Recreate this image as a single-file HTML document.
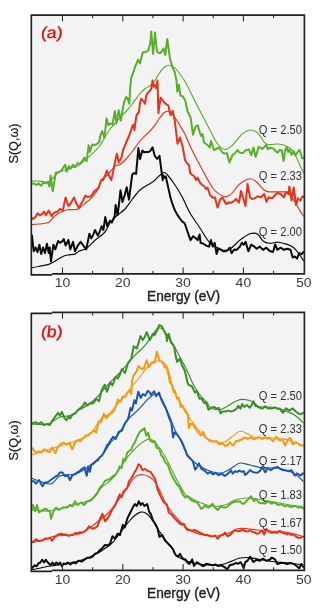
<!DOCTYPE html>
<html><head><meta charset="utf-8"><style>
html,body{margin:0;padding:0;background:#fff;}
svg{display:block;font-family:"Liberation Sans",sans-serif;will-change:transform;}
</style></head><body>
<svg width="320" height="615" viewBox="0 0 320 615">
<rect width="320" height="615" fill="#fff"/>
<rect x="31.3" y="15.1" width="273.10" height="258.80" fill="#f3f3f3"/>
<clipPath id="c0"><rect x="31.3" y="15.1" width="273.10" height="258.80"/></clipPath>
<g clip-path="url(#c0)" fill="none" stroke-linejoin="round" stroke-linecap="round">
<path d="M31.00,181.10 C32.40,181.10 36.44,180.97 39.40,181.10 C42.36,181.23 46.15,182.82 48.75,181.90 C51.35,180.98 53.17,177.30 55.00,175.60 C56.83,173.90 57.62,172.73 59.70,171.70 C61.78,170.67 64.63,170.31 67.50,169.40 C70.37,168.49 74.72,167.15 76.90,166.25 C79.08,165.35 78.88,165.31 80.60,164.00 C82.32,162.69 85.01,160.35 87.20,158.40 C89.39,156.45 91.72,154.33 93.75,152.30 C95.78,150.28 97.61,148.63 99.40,146.25 C101.19,143.87 102.73,140.88 104.50,138.00 C106.27,135.12 107.92,131.75 110.00,129.00 C112.08,126.25 115.33,123.42 117.00,121.50 C118.67,119.58 118.46,119.21 120.00,117.50 C121.54,115.79 124.17,113.54 126.25,111.25 C128.33,108.96 130.42,106.46 132.50,103.75 C134.58,101.04 136.67,97.50 138.75,95.00 C140.83,92.50 142.92,90.42 145.00,88.75 C147.08,87.08 149.58,86.38 151.25,85.00 C152.92,83.62 153.75,82.33 155.00,80.50 C156.25,78.67 157.18,76.22 158.75,74.00 C160.32,71.78 162.68,68.65 164.40,67.20 C166.12,65.75 167.54,65.25 169.10,65.30 C170.66,65.35 172.60,66.88 173.75,67.50 C174.90,68.12 174.18,66.75 176.00,69.00 C177.82,71.25 181.80,76.17 184.70,81.00 C187.60,85.83 190.85,93.00 193.40,98.00 C195.95,103.00 197.23,105.67 200.00,111.00 C202.77,116.33 207.08,124.54 210.00,130.00 C212.92,135.46 215.00,140.50 217.50,143.75 C220.00,147.00 222.50,149.29 225.00,149.50 C227.50,149.71 229.58,147.62 232.50,145.00 C235.42,142.38 239.42,136.25 242.50,133.75 C245.58,131.25 248.29,129.96 251.00,130.00 C253.71,130.04 256.18,131.67 258.75,134.00 C261.32,136.33 263.12,142.33 266.40,144.00 C269.67,145.67 275.02,143.62 278.40,144.00 C281.78,144.38 284.38,145.17 286.70,146.25 C289.02,147.33 290.65,148.62 292.30,150.50 C293.95,152.38 295.18,154.70 296.60,157.50 C298.02,160.30 299.40,164.38 300.80,167.30 C302.20,170.22 304.30,173.72 305.00,175.00" stroke="#5aae2e" stroke-width="1.15"/>
<path d="M31.00,224.70 C32.71,224.54 38.29,224.16 41.25,223.75 C44.21,223.34 46.56,223.50 48.75,222.25 C50.94,221.00 52.21,218.03 54.40,216.25 C56.59,214.47 59.72,212.69 61.90,211.60 C64.08,210.51 65.32,210.02 67.50,209.70 C69.68,209.38 73.12,209.86 75.00,209.70 C76.88,209.54 76.88,210.00 78.75,208.75 C80.62,207.50 84.38,203.76 86.25,202.20 C88.12,200.64 88.12,201.43 90.00,199.40 C91.88,197.37 95.62,193.23 97.50,190.00 C99.38,186.77 99.58,182.50 101.25,180.00 C102.92,177.50 105.21,177.29 107.50,175.00 C109.79,172.71 112.92,168.02 115.00,166.25 C117.08,164.48 118.12,165.65 120.00,164.40 C121.88,163.15 124.17,160.94 126.25,158.75 C128.33,156.56 130.21,154.21 132.50,151.25 C134.79,148.29 137.08,144.41 140.00,141.00 C142.92,137.59 147.55,133.42 150.00,130.80 C152.45,128.18 153.13,127.38 154.70,125.30 C156.27,123.22 157.85,120.38 159.40,118.30 C160.95,116.22 162.70,113.97 164.00,112.80 C165.30,111.62 166.15,111.38 167.20,111.25 C168.25,111.12 169.00,110.96 170.30,112.00 C171.60,113.04 173.43,115.28 175.00,117.50 C176.57,119.72 178.13,122.70 179.70,125.30 C181.27,127.90 183.10,130.65 184.40,133.10 C185.70,135.55 186.23,137.18 187.50,140.00 C188.77,142.82 189.50,145.00 192.00,150.00 C194.50,155.00 199.08,163.75 202.50,170.00 C205.92,176.25 209.17,183.17 212.50,187.50 C215.83,191.83 219.58,194.75 222.50,196.00 C225.42,197.25 227.08,197.04 230.00,195.00 C232.92,192.96 236.67,186.46 240.00,183.75 C243.33,181.04 247.23,179.04 250.00,178.75 C252.77,178.46 254.05,179.99 256.60,182.00 C259.15,184.01 262.75,189.15 265.30,190.80 C267.85,192.45 268.98,191.72 271.90,191.90 C274.82,192.08 280.07,191.72 282.80,191.90 C285.53,192.08 286.30,191.37 288.30,193.00 C290.30,194.63 292.98,198.97 294.80,201.70 C296.62,204.43 297.75,207.02 299.20,209.40 C300.65,211.78 302.78,214.90 303.50,216.00" stroke="#e8321c" stroke-width="1.15"/>
<path d="M31.00,268.10 C32.40,267.79 36.44,266.87 39.40,266.25 C42.36,265.63 46.25,265.17 48.75,264.40 C51.25,263.62 52.21,262.85 54.40,261.60 C56.59,260.35 59.72,258.00 61.90,256.90 C64.08,255.80 65.32,255.47 67.50,255.00 C69.68,254.53 73.12,254.72 75.00,254.10 C76.88,253.47 76.88,252.20 78.75,251.25 C80.62,250.30 83.54,250.22 86.25,248.40 C88.96,246.58 91.88,243.03 95.00,240.30 C98.12,237.57 102.50,234.88 105.00,232.00 C107.50,229.12 107.92,225.83 110.00,223.00 C112.08,220.17 115.00,217.33 117.50,215.00 C120.00,212.67 122.50,211.67 125.00,209.00 C127.50,206.33 130.00,202.17 132.50,199.00 C135.00,195.83 137.50,192.33 140.00,190.00 C142.50,187.67 145.17,186.50 147.50,185.00 C149.83,183.50 152.08,182.50 154.00,181.00 C155.92,179.50 157.33,177.42 159.00,176.00 C160.67,174.58 162.58,172.67 164.00,172.50 C165.42,172.33 165.67,172.92 167.50,175.00 C169.33,177.08 172.50,181.25 175.00,185.00 C177.50,188.75 180.00,192.83 182.50,197.50 C185.00,202.17 187.08,207.92 190.00,213.00 C192.92,218.08 196.67,223.00 200.00,228.00 C203.33,233.00 206.25,239.33 210.00,243.00 C213.75,246.67 219.17,249.00 222.50,250.00 C225.83,251.00 227.08,250.67 230.00,249.00 C232.92,247.33 236.67,242.54 240.00,240.00 C243.33,237.46 247.08,234.75 250.00,233.75 C252.92,232.75 255.33,232.79 257.50,234.00 C259.67,235.21 260.97,239.45 263.00,241.00 C265.03,242.55 267.13,243.10 269.70,243.30 C272.27,243.50 275.48,242.02 278.40,242.20 C281.32,242.38 284.64,243.48 287.20,244.40 C289.76,245.32 291.75,246.07 293.75,247.70 C295.75,249.33 297.56,252.02 299.20,254.20 C300.84,256.38 302.87,259.70 303.60,260.80" stroke="#0a0a0a" stroke-width="1.15"/>
<path d="M31.00,184.20 L33.90,183.40 L36.25,185.00 L38.60,183.40 L40.90,185.80 L43.30,182.70 L45.60,183.40 L48.00,181.90 L49.50,186.60 L50.60,175.60 L52.70,191.25 L55.80,172.50 L58.10,172.50 L61.25,170.90 L63.60,167.00 L65.20,164.70 L66.70,171.70 L69.00,166.25 L70.60,168.60 L73.00,164.70 L75.30,167.00 L77.70,163.10 L80.00,163.90 L81.60,162.20 L84.40,157.50 L86.70,161.25 L88.60,145.30 L90.00,151.90 L92.30,144.40 L94.70,145.30 L97.00,143.90 L99.40,142.00 L100.00,136.60 L102.20,131.10 L104.40,137.70 L106.60,118.50 L108.20,125.10 L110.40,123.40 L112.60,124.50 L114.80,110.90 L116.40,123.40 L118.60,110.30 L120.80,120.70 L122.50,110.00 L124.40,101.25 L126.25,96.90 L127.50,98.10 L129.40,103.75 L130.00,90.00 L131.25,77.50 L132.50,74.70 L135.30,66.25 L138.10,59.70 L140.00,63.40 L142.80,52.20 L145.60,52.20 L148.40,50.30 L150.30,42.80 L151.25,31.60 L153.10,54.00 L155.00,32.50 L156.90,51.25 L158.75,52.99 L160.60,53.10 L163.40,48.40 L165.30,55.00 L167.20,39.00 L170.00,58.75 L172.80,68.10 L174.70,71.90 L176.60,81.25 L177.30,91.70 L178.90,84.70 L180.50,95.60 L182.80,96.40 L185.20,100.30 L187.50,111.25 L190.60,117.50 L193.00,134.70 L195.30,126.90 L197.70,125.30 L200.00,133.10 L201.00,136.00 L202.50,134.00 L204.00,142.50 L207.50,145.00 L210.00,147.50 L211.00,141.00 L214.00,150.00 L216.00,149.00 L219.00,147.50 L222.50,152.50 L224.70,153.62 L226.90,153.10 L229.40,162.50 L232.50,155.00 L235.00,153.24 L237.50,150.00 L239.38,152.42 L241.25,153.10 L243.33,152.82 L245.42,150.28 L247.50,150.00 L248.75,149.40 L251.25,155.00 L253.50,147.50 L255.60,156.90 L258.75,146.90 L261.25,148.10 L262.10,149.10 L264.20,147.00 L266.30,144.80 L267.70,149.10 L269.80,147.70 L273.40,148.40 L275.50,151.20 L277.60,152.60 L279.70,149.80 L281.80,150.50 L283.60,161.00 L285.30,149.80 L286.70,147.00 L288.10,151.90 L289.50,149.80 L291.60,154.70 L293.75,151.20 L295.20,155.40 L297.30,152.60 L299.40,149.80 L300.80,153.30 L302.20,158.20 L305.00,158.20" stroke="#5aae2e" stroke-width="2.0"/>
<path d="M31.00,217.00 L33.00,219.00 L35.25,217.19 L37.50,213.40 L40.30,215.30 L42.15,214.03 L44.00,211.60 L46.00,215.30 L48.75,210.60 L51.60,216.25 L53.40,213.40 L56.00,212.00 L58.00,211.44 L60.00,208.75 L62.80,210.60 L65.60,197.50 L68.40,206.00 L71.00,203.00 L74.00,197.50 L76.38,203.42 L78.75,207.80 L81.00,204.00 L83.15,200.50 L85.30,195.60 L87.65,196.95 L90.00,196.60 L92.00,194.95 L94.00,191.63 L96.00,190.00 L98.75,187.50 L101.25,180.00 L103.00,180.00 L104.95,176.02 L106.90,170.60 L109.08,175.89 L111.25,180.00 L113.13,172.13 L115.02,161.79 L116.90,153.75 L118.75,162.50 L121.25,158.10 L123.10,150.00 L124.40,146.90 L126.25,142.50 L129.40,135.00 L131.90,127.50 L133.10,125.00 L134.40,130.00 L136.25,116.25 L137.50,113.75 L138.75,112.50 L140.00,103.10 L141.25,98.75 L143.10,100.60 L145.00,103.75 L146.25,95.60 L148.10,92.50 L150.00,90.60 L151.25,88.75 L152.50,80.60 L153.75,86.90 L155.00,85.00 L156.25,88.10 L157.50,80.60 L158.40,113.00 L160.60,97.70 L163.90,102.00 L166.10,104.20 L168.30,105.30 L170.50,115.20 L172.70,110.80 L174.80,120.60 L176.00,131.00 L177.50,143.75 L180.00,137.50 L182.50,146.00 L185.00,160.00 L187.00,163.19 L189.00,165.00 L190.00,172.50 L192.00,174.87 L194.00,176.00 L196.00,180.00 L197.50,177.50 L200.00,182.50 L202.00,184.84 L204.00,186.00 L206.00,189.00 L207.50,187.50 L210.00,195.00 L212.50,197.50 L215.00,197.50 L217.50,207.50 L220.00,200.00 L222.50,197.50 L226.00,204.00 L229.00,202.50 L231.50,202.66 L234.00,201.00 L236.00,199.00 L239.00,202.50 L241.00,191.00 L243.00,197.50 L245.50,206.00 L247.50,184.00 L250.00,197.50 L252.20,198.99 L254.40,198.40 L257.70,196.25 L261.00,197.30 L264.20,194.00 L266.40,201.70 L268.60,197.30 L271.90,198.40 L274.00,196.25 L277.30,193.00 L280.60,194.00 L283.90,197.30 L286.10,191.90 L288.30,194.00 L289.40,186.40 L291.60,200.60 L293.75,187.50 L296.00,205.00 L298.10,198.40 L300.30,200.60 L302.50,196.25 L304.00,197.00" stroke="#e8321c" stroke-width="2.0"/>
<path d="M31.00,249.40 L31.90,235.30 L33.75,251.25 L35.60,247.50 L37.50,252.20 L39.40,244.70 L41.25,254.00 L43.10,247.50 L45.00,253.10 L46.90,243.75 L48.75,253.10 L49.70,247.50 L51.00,261.60 L53.40,244.70 L55.30,249.40 L58.10,241.00 L60.00,242.80 L61.88,241.66 L63.75,239.00 L65.60,245.60 L68.40,240.00 L70.30,249.40 L73.10,241.90 L75.00,251.25 L77.80,245.60 L80.60,241.90 L83.40,245.60 L86.25,249.40 L89.40,233.75 L91.25,238.40 L93.12,235.08 L95.00,230.00 L97.80,235.60 L99.70,231.77 L101.60,226.25 L103.40,230.00 L105.30,216.90 L107.20,226.25 L110.00,220.60 L111.90,222.50 L114.70,215.90 L115.60,205.00 L117.50,215.00 L118.90,205.00 L120.50,190.30 L122.50,202.00 L124.60,195.50 L126.70,187.20 L129.00,199.70 L132.20,174.70 L133.75,173.10 L136.10,173.90 L138.40,148.10 L140.00,159.00 L142.30,150.50 L144.28,152.29 L146.25,152.00 L148.60,152.00 L150.55,150.59 L152.50,147.30 L154.80,155.90 L157.20,159.00 L159.50,155.90 L162.70,180.20 L163.25,175.20 L164.50,177.80 L165.80,176.50 L167.80,185.60 L170.40,197.30 L172.35,203.70 L174.30,209.00 L176.90,214.09 L179.50,218.00 L182.10,221.37 L184.70,223.25 L187.30,231.00 L190.50,240.10 L193.10,236.20 L195.70,238.20 L197.70,240.10 L199.60,234.50 L200.60,242.80 L203.40,243.75 L206.25,245.60 L209.10,246.60 L210.90,240.00 L212.80,246.60 L214.70,242.80 L216.60,254.00 L218.40,248.40 L220.30,249.40 L223.10,251.25 L226.00,251.25 L227.85,250.07 L229.70,247.50 L231.60,253.10 L234.40,249.40 L236.25,249.98 L238.10,248.40 L240.00,246.52 L241.90,242.80 L243.75,244.70 L245.60,241.90 L248.40,251.25 L251.25,244.70 L254.40,246.60 L256.60,248.75 L259.80,246.60 L263.00,249.80 L266.40,247.70 L269.70,251.00 L273.00,252.00 L275.20,244.40 L277.30,249.80 L280.60,247.70 L283.90,249.80 L287.20,248.75 L290.50,249.80 L292.70,257.50 L294.80,256.40 L297.00,258.60 L299.20,253.10 L301.40,254.20 L303.60,252.00" stroke="#0a0a0a" stroke-width="2.0"/>
</g>
<path d="M62.50,273.90 V267.60 M62.50,15.10 V21.40 M92.65,273.90 V270.70 M92.65,15.10 V18.30 M122.80,273.90 V267.60 M122.80,15.10 V21.40 M152.95,273.90 V270.70 M152.95,15.10 V18.30 M183.10,273.90 V267.60 M183.10,15.10 V21.40 M213.25,273.90 V270.70 M213.25,15.10 V18.30 M243.40,273.90 V267.60 M243.40,15.10 V21.40 M273.55,273.90 V270.70 M273.55,15.10 V18.30" stroke="#2a2a2a" stroke-width="1.05" fill="none"/>
<path d="M31.30,14.30 V275.65 M304.40,14.30 V274.70 M31.30,15.10 H52.00 M52.00,15.10 H305.20 M31.30,274.85 H52.00 M52.00,273.90 H305.20" fill="none" stroke="#222222" stroke-width="1.65"/>
<text x="62.50" y="287.20" text-anchor="middle" font-size="13.6" fill="#3a3a3a" textLength="15.6" lengthAdjust="spacingAndGlyphs">10</text>
<text x="122.80" y="287.20" text-anchor="middle" font-size="13.6" fill="#3a3a3a" textLength="15.6" lengthAdjust="spacingAndGlyphs">20</text>
<text x="183.10" y="287.20" text-anchor="middle" font-size="13.6" fill="#3a3a3a" textLength="15.6" lengthAdjust="spacingAndGlyphs">30</text>
<text x="243.40" y="287.20" text-anchor="middle" font-size="13.6" fill="#3a3a3a" textLength="15.6" lengthAdjust="spacingAndGlyphs">40</text>
<text x="303.70" y="287.20" text-anchor="middle" font-size="13.6" fill="#3a3a3a" textLength="15.6" lengthAdjust="spacingAndGlyphs">50</text>
<text x="147" y="301.40" font-size="14.2" fill="#222" stroke="#222" stroke-width="0.4" textLength="73" lengthAdjust="spacingAndGlyphs">Energy (eV)</text>
<text transform="translate(17.8,143.50) rotate(-90)" text-anchor="middle" font-size="13" fill="#222" stroke="#222" stroke-width="0.25" textLength="40" lengthAdjust="spacingAndGlyphs">S(Q,ω)</text>
<text transform="translate(40.4,38.30) skewX(-6)" x="0" y="0" font-size="16" fill="#e01010" stroke="#e01010" stroke-width="0.35" textLength="21.8" lengthAdjust="spacingAndGlyphs">(a)</text>
<text x="258.8" y="134.00" font-size="13.7" fill="#333" textLength="43.2" lengthAdjust="spacingAndGlyphs">Q = 2.50</text>
<text x="258.8" y="180.00" font-size="13.7" fill="#333" textLength="43.2" lengthAdjust="spacingAndGlyphs">Q = 2.33</text>
<text x="258.8" y="236.00" font-size="13.7" fill="#333" textLength="43.2" lengthAdjust="spacingAndGlyphs">Q = 2.00</text>
<rect x="31.3" y="312.4" width="273.10" height="258.00" fill="#f3f3f3"/>
<clipPath id="c1"><rect x="31.3" y="312.4" width="273.10" height="258.00"/></clipPath>
<g clip-path="url(#c1)" fill="none" stroke-linejoin="round" stroke-linecap="round">
<path d="M31.00,424.00 C33.33,424.08 41.50,424.83 45.00,424.50 C48.50,424.17 49.50,423.25 52.00,422.00 C54.50,420.75 57.00,418.08 60.00,417.00 C63.00,415.92 66.67,416.75 70.00,415.50 C73.33,414.25 76.67,411.50 80.00,409.50 C83.33,407.50 86.67,406.08 90.00,403.50 C93.33,400.92 96.77,397.40 100.00,394.00 C103.23,390.60 106.28,386.48 109.40,383.10 C112.53,379.73 115.88,376.73 118.75,373.75 C121.62,370.77 124.12,368.06 126.60,365.20 C129.07,362.34 130.90,359.50 133.60,356.60 C136.30,353.70 139.97,350.83 142.80,347.80 C145.63,344.77 148.25,341.53 150.60,338.40 C152.95,335.27 155.07,330.68 156.90,329.00 C158.73,327.32 160.04,327.51 161.60,328.30 C163.16,329.09 164.43,331.28 166.25,333.75 C168.07,336.22 170.42,339.59 172.50,343.10 C174.58,346.61 176.67,350.88 178.75,354.80 C180.83,358.72 183.29,363.23 185.00,366.60 C186.71,369.97 187.65,372.10 189.00,375.00 C190.35,377.90 191.27,380.67 193.10,384.00 C194.93,387.33 197.60,391.82 200.00,395.00 C202.40,398.18 205.93,401.12 207.50,403.10 C209.07,405.08 207.53,405.80 209.40,406.90 C211.28,408.00 215.94,409.70 218.75,409.70 C221.56,409.70 223.75,408.15 226.25,406.90 C228.75,405.65 231.25,403.45 233.75,402.20 C236.25,400.95 238.75,399.72 241.25,399.40 C243.75,399.08 246.56,399.68 248.75,400.30 C250.94,400.92 252.53,402.00 254.40,403.10 C256.27,404.20 257.08,406.20 260.00,406.90 C262.92,407.60 267.73,406.68 271.90,407.30 C276.07,407.92 280.98,409.13 285.00,410.60 C289.02,412.07 293.00,414.08 296.00,416.10 C299.00,418.12 301.83,421.60 303.00,422.70" stroke="#3a8f26" stroke-width="1.15"/>
<path d="M31.00,455.00 C34.17,454.00 43.50,451.00 50.00,449.00 C56.50,447.00 63.33,445.50 70.00,443.00 C76.67,440.50 85.00,437.87 90.00,434.00 C95.00,430.13 96.77,423.20 100.00,419.80 C103.23,416.40 106.28,416.45 109.40,413.60 C112.53,410.75 115.63,406.22 118.75,402.70 C121.87,399.18 125.76,395.37 128.10,392.50 C130.44,389.63 130.98,387.92 132.80,385.50 C134.62,383.08 136.65,381.00 139.00,378.00 C141.35,375.00 144.73,369.92 146.90,367.50 C149.07,365.08 150.32,364.58 152.00,363.50 C153.68,362.42 155.33,361.33 157.00,361.00 C158.67,360.67 160.50,360.83 162.00,361.50 C163.50,362.17 164.83,363.25 166.00,365.00 C167.17,366.75 167.92,368.46 169.00,372.00 C170.08,375.54 171.08,382.00 172.50,386.25 C173.92,390.50 175.83,394.06 177.50,397.50 C179.17,400.94 180.83,403.88 182.50,406.90 C184.17,409.92 185.83,413.10 187.50,415.60 C189.17,418.10 190.83,419.71 192.50,421.90 C194.17,424.09 195.83,426.67 197.50,428.75 C199.17,430.83 200.83,432.73 202.50,434.40 C204.17,436.07 204.17,437.40 207.50,438.75 C210.83,440.10 218.58,442.71 222.50,442.50 C226.42,442.29 228.08,439.38 231.00,437.50 C233.92,435.62 237.25,431.88 240.00,431.25 C242.75,430.62 245.00,432.71 247.50,433.75 C250.00,434.79 252.03,436.91 255.00,437.50 C257.97,438.09 261.40,437.12 265.30,437.30 C269.20,437.48 274.38,438.12 278.40,438.60 C282.42,439.08 285.30,439.03 289.40,440.20 C293.50,441.37 300.73,444.70 303.00,445.60" stroke="#f59b12" stroke-width="1.15"/>
<path d="M31.00,478.00 C34.17,479.00 45.17,484.33 50.00,484.00 C54.83,483.67 55.83,477.63 60.00,476.00 C64.17,474.37 70.93,475.28 75.00,474.20 C79.07,473.12 81.28,471.45 84.40,469.50 C87.53,467.55 90.63,465.10 93.75,462.50 C96.87,459.90 100.24,457.28 103.10,453.90 C105.96,450.52 108.55,445.20 110.90,442.20 C113.25,439.20 114.85,438.93 117.20,435.90 C119.55,432.87 122.92,427.07 125.00,424.00 C127.08,420.93 127.62,419.75 129.70,417.50 C131.78,415.25 134.90,413.10 137.50,410.50 C140.10,407.90 143.22,404.12 145.30,401.90 C147.38,399.68 148.22,398.56 150.00,397.20 C151.78,395.84 154.17,393.70 156.00,393.75 C157.83,393.80 158.83,393.96 161.00,397.50 C163.17,401.04 166.67,409.58 169.00,415.00 C171.33,420.42 173.17,426.04 175.00,430.00 C176.83,433.96 178.33,435.38 180.00,438.75 C181.67,442.12 183.12,446.74 185.00,450.20 C186.88,453.66 188.65,456.77 191.25,459.50 C193.85,462.23 197.74,464.77 200.60,466.60 C203.46,468.43 205.79,469.47 208.40,470.50 C211.01,471.53 213.90,472.42 216.25,472.80 C218.60,473.18 220.42,473.32 222.50,472.80 C224.58,472.28 226.67,470.87 228.75,469.70 C230.83,468.53 233.12,466.92 235.00,465.80 C236.88,464.68 237.50,463.13 240.00,463.00 C242.50,462.87 246.17,464.17 250.00,465.00 C253.83,465.83 258.62,467.50 263.00,468.00 C267.38,468.50 271.85,467.46 276.25,468.00 C280.65,468.54 285.94,469.98 289.40,471.25 C292.86,472.52 294.73,473.96 297.00,475.60 C299.27,477.24 302.00,480.18 303.00,481.10" stroke="#1b56ae" stroke-width="1.15"/>
<path d="M31.00,510.00 C34.17,510.17 43.50,511.67 50.00,511.00 C56.50,510.33 63.33,507.83 70.00,506.00 C76.67,504.17 85.00,502.83 90.00,500.00 C95.00,497.17 96.67,492.17 100.00,489.00 C103.33,485.83 107.50,483.25 110.00,481.00 C112.50,478.75 113.33,477.58 115.00,475.50 C116.67,473.42 117.92,471.55 120.00,468.50 C122.08,465.45 125.00,460.49 127.50,457.20 C130.00,453.91 132.50,451.25 135.00,448.75 C137.50,446.25 140.32,443.76 142.50,442.20 C144.68,440.64 146.38,439.72 148.10,439.40 C149.82,439.08 151.23,439.37 152.80,440.30 C154.37,441.23 155.47,442.34 157.50,445.00 C159.53,447.66 162.50,451.88 165.00,456.25 C167.50,460.62 170.33,466.96 172.50,471.25 C174.67,475.54 175.92,478.21 178.00,482.00 C180.08,485.79 183.00,491.42 185.00,494.00 C187.00,496.58 187.50,496.08 190.00,497.50 C192.50,498.92 196.25,501.04 200.00,502.50 C203.75,503.96 208.33,505.83 212.50,506.25 C216.67,506.67 221.25,506.04 225.00,505.00 C228.75,503.96 231.67,501.17 235.00,500.00 C238.33,498.83 241.67,498.21 245.00,498.00 C248.33,497.79 250.83,498.21 255.00,498.75 C259.17,499.29 264.17,500.21 270.00,501.25 C275.83,502.29 284.50,504.04 290.00,505.00 C295.50,505.96 300.83,506.67 303.00,507.00" stroke="#5eae2e" stroke-width="1.15"/>
<path d="M31.00,543.10 C33.43,542.45 41.60,540.37 45.60,539.20 C49.60,538.03 51.35,536.75 55.00,536.10 C58.65,535.45 63.83,535.57 67.50,535.30 C71.17,535.03 74.08,535.22 77.00,534.50 C79.92,533.78 81.17,533.42 85.00,531.00 C88.83,528.58 95.83,523.29 100.00,520.00 C104.17,516.71 107.18,514.27 110.00,511.25 C112.82,508.23 114.19,505.49 116.90,501.90 C119.61,498.31 123.75,493.30 126.25,489.70 C128.75,486.10 130.03,482.65 131.90,480.30 C133.78,477.95 135.63,476.53 137.50,475.60 C139.37,474.67 141.22,474.53 143.10,474.70 C144.97,474.87 146.87,475.51 148.75,476.60 C150.63,477.69 152.53,478.85 154.40,481.25 C156.28,483.65 158.23,487.54 160.00,491.00 C161.77,494.46 163.33,498.83 165.00,502.00 C166.67,505.17 168.33,507.67 170.00,510.00 C171.67,512.33 173.33,514.08 175.00,516.00 C176.67,517.92 177.92,519.43 180.00,521.50 C182.08,523.57 184.38,526.32 187.50,528.40 C190.62,530.48 194.17,532.69 198.75,534.00 C203.33,535.31 210.21,536.29 215.00,536.25 C219.79,536.21 223.75,535.00 227.50,533.75 C231.25,532.50 234.17,529.58 237.50,528.75 C240.83,527.92 244.17,528.54 247.50,528.75 C250.83,528.96 253.75,529.62 257.50,530.00 C261.25,530.38 264.58,530.50 270.00,531.00 C275.42,531.50 284.50,532.08 290.00,533.00 C295.50,533.92 300.83,535.92 303.00,536.50" stroke="#e6341c" stroke-width="1.15"/>
<path d="M31.00,570.00 C34.17,569.33 43.50,567.17 50.00,566.00 C56.50,564.83 63.33,564.50 70.00,563.00 C76.67,561.50 83.33,560.00 90.00,557.00 C96.67,554.00 105.00,549.00 110.00,545.00 C115.00,541.00 116.77,537.00 120.00,533.00 C123.23,529.00 126.90,523.95 129.40,521.00 C131.90,518.05 133.13,516.78 135.00,515.30 C136.87,513.82 138.72,512.42 140.60,512.10 C142.47,511.78 144.52,512.40 146.25,513.40 C147.98,514.40 149.12,515.60 151.00,518.10 C152.88,520.60 155.17,524.80 157.50,528.40 C159.83,532.00 162.50,536.42 165.00,539.70 C167.50,542.98 170.62,545.45 172.50,548.10 C174.38,550.75 173.75,553.41 176.25,555.60 C178.75,557.79 183.75,559.85 187.50,561.25 C191.25,562.65 195.10,563.38 198.75,564.00 C202.40,564.62 205.54,564.92 209.40,565.00 C213.26,565.08 218.26,565.10 221.90,564.50 C225.54,563.90 228.40,562.43 231.25,561.40 C234.10,560.37 236.38,558.95 239.00,558.30 C241.62,557.65 244.33,557.47 247.00,557.50 C249.67,557.53 251.17,557.88 255.00,558.50 C258.83,559.12 264.17,560.50 270.00,561.25 C275.83,562.00 284.50,562.38 290.00,563.00 C295.50,563.62 300.83,564.67 303.00,565.00" stroke="#0a0a0a" stroke-width="1.15"/>
<path d="M31.00,424.00 L32.80,423.10 L35.60,422.20 L38.40,424.00 L41.25,422.20 L44.10,425.00 L46.90,424.00 L49.70,425.00 L52.50,420.30 L55.30,416.60 L58.10,412.80 L60.00,415.60 L61.90,411.90 L64.70,418.40 L66.60,420.30 L68.40,416.60 L70.30,418.40 L72.20,414.70 L75.00,413.75 L77.80,410.00 L80.60,408.10 L83.40,405.30 L84.80,402.50 L87.20,405.30 L90.00,403.40 L92.00,403.49 L94.00,402.50 L96.00,398.75 L99.00,401.25 L101.60,390.20 L104.70,384.70 L107.00,391.70 L110.20,382.30 L112.50,385.50 L115.60,376.90 L118.00,378.40 L119.95,374.55 L121.90,369.00 L125.00,373.00 L128.10,362.80 L131.25,358.90 L133.75,346.25 L136.60,348.60 L138.55,342.90 L140.50,336.10 L142.80,340.00 L144.75,337.01 L146.70,332.20 L149.80,340.00 L153.00,333.75 L154.50,335.30 L156.85,331.09 L159.20,325.20 L161.60,325.90 L163.90,330.60 L166.25,335.30 L167.00,341.00 L168.60,333.75 L170.90,342.30 L174.00,346.25 L175.60,355.60 L177.20,361.90 L179.50,358.75 L181.90,365.00 L185.00,371.25 L187.50,382.50 L188.75,385.00 L191.90,386.25 L195.00,392.50 L196.90,391.25 L199.40,398.75 L201.25,398.10 L204.40,403.10 L206.25,402.50 L208.40,409.70 L211.25,407.80 L214.00,406.90 L216.90,408.75 L218.75,407.80 L220.60,413.40 L222.50,411.60 L225.30,411.60 L228.10,410.60 L231.00,411.60 L233.75,410.60 L236.60,408.75 L238.40,405.90 L240.30,408.75 L242.20,404.10 L244.10,406.90 L246.90,405.00 L249.70,407.80 L251.55,405.22 L253.40,401.25 L255.30,405.90 L258.10,406.90 L261.00,408.40 L263.15,408.17 L265.30,406.25 L267.50,408.14 L269.70,408.40 L272.35,408.32 L275.00,407.30 L277.25,408.64 L279.50,408.40 L282.80,412.80 L286.10,408.40 L289.40,410.60 L292.70,408.40 L296.00,411.70 L299.20,413.90 L301.10,414.20 L303.00,412.80" stroke="#3a8f26" stroke-width="2.0"/>
<path d="M31.00,449.40 L32.80,448.40 L35.60,453.10 L38.40,451.25 L41.25,452.20 L44.10,449.40 L46.90,451.25 L49.70,452.20 L52.50,447.50 L55.30,453.10 L58.10,446.60 L61.00,443.75 L63.75,442.80 L66.60,444.70 L69.40,442.80 L72.20,449.40 L75.00,442.80 L77.80,440.00 L80.60,441.00 L83.40,438.10 L86.25,435.30 L88.12,435.44 L90.00,433.40 L92.00,432.44 L94.00,430.00 L96.00,432.50 L99.00,421.25 L101.00,422.50 L103.90,413.60 L106.25,418.30 L109.40,414.40 L112.50,412.80 L114.80,408.90 L118.00,399.50 L120.30,401.90 L122.70,396.40 L125.00,397.20 L127.30,392.50 L129.70,390.20 L131.25,394.00 L132.00,380.80 L133.60,375.30 L136.70,371.40 L138.30,365.90 L141.40,369.00 L143.75,368.30 L146.70,360.30 L149.10,367.30 L152.20,361.90 L154.50,362.70 L156.90,351.70 L159.20,360.30 L162.30,361.90 L164.70,367.30 L166.25,365.80 L167.80,372.80 L168.60,375.00 L170.00,382.50 L171.90,385.00 L173.75,392.50 L175.00,390.60 L176.90,398.75 L178.75,397.50 L180.60,406.90 L182.50,405.60 L184.70,409.96 L186.90,412.50 L188.10,415.60 L188.75,428.10 L190.60,423.75 L193.10,424.40 L195.60,428.75 L198.75,433.10 L201.25,435.60 L203.10,431.90 L205.60,437.50 L207.50,438.75 L209.90,441.10 L212.30,441.60 L214.28,441.78 L216.25,440.80 L218.60,443.90 L220.55,443.99 L222.50,443.10 L225.60,446.25 L227.55,445.11 L229.50,442.30 L231.45,444.42 L233.40,445.50 L236.00,441.00 L237.50,441.25 L240.00,440.00 L242.00,439.44 L244.00,437.50 L247.50,438.75 L251.00,437.50 L253.25,439.28 L255.50,439.00 L258.75,436.90 L262.00,439.00 L265.30,437.30 L267.50,438.67 L269.70,438.00 L273.00,441.25 L276.25,436.90 L279.50,440.20 L282.80,440.20 L285.00,445.60 L288.30,439.00 L290.50,438.00 L292.70,444.50 L296.00,442.30 L299.20,444.50 L301.10,445.57 L303.00,445.60" stroke="#f59b12" stroke-width="2.0"/>
<path d="M31.00,481.25 L34.00,481.25 L36.00,483.75 L39.00,480.00 L42.50,486.25 L45.00,482.50 L47.00,482.56 L49.00,481.25 L52.50,478.75 L56.00,476.25 L58.00,475.41 L60.00,472.50 L62.50,472.50 L65.00,476.25 L67.50,475.00 L70.00,480.00 L72.50,475.00 L76.00,473.75 L76.60,472.70 L78.92,471.80 L81.25,469.50 L84.40,467.20 L86.70,475.80 L88.30,466.40 L89.80,471.90 L91.40,464.80 L93.35,463.83 L95.30,461.70 L97.65,460.33 L100.00,457.00 L101.95,455.59 L103.90,452.30 L107.00,445.30 L108.95,443.45 L110.90,439.80 L113.30,436.70 L115.60,439.00 L118.75,432.00 L121.90,430.50 L125.00,423.00 L128.10,419.00 L130.50,408.10 L132.00,410.50 L134.40,400.30 L135.90,403.40 L138.30,391.70 L140.60,398.00 L143.00,394.00 L145.30,395.60 L147.70,390.90 L150.00,392.50 L151.00,395.00 L154.00,391.25 L156.00,396.25 L159.00,392.50 L161.00,398.75 L164.00,405.00 L166.00,408.75 L169.00,417.50 L171.25,422.50 L173.10,437.50 L174.40,432.50 L177.50,435.00 L180.00,438.75 L182.50,443.10 L185.00,449.40 L187.30,455.60 L189.70,458.00 L192.80,461.10 L195.20,469.70 L197.10,467.00 L199.00,463.40 L201.40,468.90 L204.50,470.50 L207.70,473.60 L210.00,472.00 L213.10,474.40 L215.50,472.80 L218.60,475.20 L221.70,473.60 L224.80,476.00 L228.00,473.60 L231.10,470.50 L232.70,473.60 L235.00,471.25 L237.25,471.96 L239.50,470.60 L241.75,471.86 L244.00,471.25 L245.00,475.00 L247.50,473.16 L250.00,470.00 L252.50,471.87 L255.00,472.50 L257.40,472.65 L259.80,471.25 L262.00,466.90 L265.30,472.30 L267.50,468.00 L270.80,470.20 L274.00,468.00 L277.30,466.90 L280.60,469.00 L282.80,470.05 L285.00,470.20 L288.30,471.25 L291.60,470.20 L294.80,475.60 L297.00,473.40 L300.30,475.60 L303.00,473.40" stroke="#1b56ae" stroke-width="2.0"/>
<path d="M31.00,511.25 L33.00,505.00 L35.00,511.25 L37.00,505.00 L39.00,512.50 L42.50,510.00 L46.00,508.75 L48.00,510.57 L50.00,511.25 L51.00,518.75 L54.00,510.00 L56.00,507.50 L59.00,510.00 L62.50,507.50 L66.00,507.50 L68.00,506.75 L70.00,505.00 L72.50,506.25 L75.00,501.25 L77.50,505.00 L81.00,502.50 L84.00,505.00 L87.50,501.25 L90.00,500.88 L92.50,498.75 L96.00,495.00 L98.00,492.08 L100.00,487.50 L102.50,485.00 L105.00,481.00 L108.00,479.70 L110.50,478.71 L113.00,476.00 L115.00,475.60 L117.80,471.00 L119.70,466.25 L121.60,468.10 L123.40,458.75 L125.30,460.60 L127.00,453.00 L129.40,450.60 L131.25,449.70 L133.10,445.00 L135.00,442.20 L136.90,437.50 L138.75,433.75 L140.60,431.00 L142.50,430.00 L144.40,428.10 L146.25,435.60 L148.10,432.80 L150.00,440.30 L152.80,442.20 L154.70,441.25 L156.60,447.80 L159.40,448.75 L161.25,455.30 L163.10,457.20 L165.00,461.90 L167.80,464.70 L169.70,470.30 L171.60,475.00 L175.00,481.25 L177.00,484.42 L179.00,486.25 L182.50,493.75 L185.00,497.50 L187.50,496.25 L190.00,498.75 L192.00,500.74 L194.00,501.25 L197.50,502.50 L201.00,508.75 L203.00,507.90 L205.00,505.00 L207.00,507.23 L209.00,507.50 L212.50,503.75 L215.00,507.50 L217.50,510.00 L221.00,506.25 L223.00,507.49 L225.00,507.50 L227.00,506.87 L229.00,505.00 L232.50,502.50 L236.00,501.25 L238.00,501.74 L240.00,501.25 L242.00,503.42 L244.00,503.75 L247.50,500.00 L251.00,496.25 L254.00,501.25 L256.00,498.75 L259.00,502.50 L261.00,503.22 L263.00,503.00 L265.23,503.65 L267.47,501.47 L269.70,502.30 L271.88,503.73 L274.07,502.48 L276.25,503.60 L278.43,505.11 L280.62,504.14 L282.80,505.20 L285.00,506.50 L287.20,505.34 L289.40,506.25 L291.60,507.14 L293.80,505.79 L296.00,506.25 L298.33,507.74 L300.67,506.63 L303.00,508.40" stroke="#5eae2e" stroke-width="2.0"/>
<path d="M31.00,542.30 L33.62,541.52 L36.25,539.20 L38.58,541.01 L40.90,540.80 L43.25,540.10 L45.60,538.40 L47.95,538.74 L50.30,537.70 L51.90,540.80 L55.00,536.90 L58.10,534.50 L61.25,533.75 L63.62,534.60 L66.00,534.50 L68.30,535.77 L70.60,535.30 L72.95,534.71 L75.30,533.00 L77.65,533.24 L80.00,532.20 L82.50,532.71 L85.00,531.25 L87.00,529.23 L89.00,526.25 L92.50,528.75 L95.00,528.04 L97.50,526.25 L100.00,518.75 L102.50,513.75 L105.00,521.25 L107.00,519.39 L109.00,516.25 L112.50,508.75 L115.00,505.60 L117.80,499.00 L119.70,494.40 L121.60,497.20 L123.40,491.60 L125.30,489.70 L127.20,487.80 L129.00,481.25 L131.90,477.50 L134.70,471.90 L136.60,469.00 L138.40,464.40 L140.30,465.30 L142.20,470.00 L145.00,469.00 L147.80,471.00 L150.60,471.90 L152.50,474.70 L155.30,479.40 L157.50,489.00 L160.30,495.60 L163.10,501.25 L165.00,503.65 L166.90,504.10 L168.75,512.50 L171.60,514.40 L174.40,518.10 L177.20,521.00 L180.00,523.75 L181.88,524.50 L183.75,523.75 L185.62,527.73 L187.50,530.00 L190.00,530.00 L192.00,531.03 L194.00,530.00 L197.50,531.25 L200.00,533.09 L202.50,533.75 L205.00,535.11 L207.50,535.00 L211.00,536.25 L213.00,536.43 L215.00,535.50 L217.50,538.75 L221.00,535.00 L223.00,534.71 L225.00,532.50 L227.50,536.25 L230.00,535.00 L232.50,532.50 L235.00,530.00 L237.00,531.08 L239.00,531.25 L242.50,530.00 L246.00,531.25 L248.00,531.56 L250.00,530.00 L252.20,531.82 L254.40,532.30 L256.57,533.67 L258.75,533.40 L262.00,530.20 L264.20,534.50 L266.40,529.00 L269.70,532.30 L272.35,532.86 L275.00,532.30 L276.87,533.00 L278.73,530.95 L280.60,531.25 L282.80,533.07 L285.00,533.40 L287.20,534.46 L289.40,533.40 L291.20,534.97 L293.00,534.21 L294.80,535.60 L298.10,537.80 L300.55,537.84 L303.00,536.70" stroke="#e6341c" stroke-width="2.0"/>
<path d="M31.00,569.00 L32.80,567.20 L34.70,565.30 L36.60,566.25 L38.40,563.40 L40.30,562.50 L42.20,559.70 L44.10,562.50 L45.90,559.70 L47.80,562.50 L50.60,565.30 L52.50,562.50 L54.40,565.30 L56.25,562.50 L58.10,564.40 L60.00,562.50 L61.90,566.25 L63.75,563.40 L65.60,564.40 L67.50,562.50 L70.30,564.40 L73.10,562.50 L75.90,563.40 L78.75,560.60 L81.60,561.60 L84.40,559.70 L87.20,557.80 L90.00,557.80 L92.50,556.68 L95.00,553.75 L97.50,552.91 L100.00,550.00 L102.50,547.95 L105.00,545.00 L107.50,545.44 L110.00,543.75 L112.50,536.25 L115.00,538.75 L117.50,533.75 L120.00,535.00 L122.80,524.70 L124.70,527.50 L127.50,518.10 L130.30,512.50 L133.10,506.90 L135.00,504.10 L136.90,506.00 L138.75,501.25 L140.60,505.00 L142.50,503.10 L144.40,506.00 L147.20,504.10 L149.10,511.60 L151.00,514.40 L152.80,520.00 L154.70,522.80 L157.50,528.40 L159.40,536.90 L162.20,535.00 L165.00,540.60 L167.80,543.40 L170.60,546.25 L173.40,550.00 L174.40,552.80 L176.25,555.68 L178.10,556.60 L180.00,553.75 L181.90,557.50 L183.75,558.93 L185.60,559.40 L187.50,562.67 L189.40,564.00 L192.20,559.40 L194.00,566.00 L196.90,562.20 L199.70,564.00 L202.50,566.00 L204.38,565.85 L206.25,563.75 L209.40,564.50 L212.50,565.30 L215.60,564.50 L218.00,566.10 L221.10,565.30 L224.20,566.90 L227.30,569.20 L229.70,565.30 L232.80,564.50 L235.90,563.00 L238.30,563.75 L240.60,562.20 L242.20,564.50 L243.75,568.00 L245.30,562.20 L247.70,560.60 L250.00,556.70 L253.30,561.90 L256.60,559.70 L259.80,560.80 L263.00,558.60 L266.40,560.80 L269.70,559.70 L271.90,557.50 L275.20,559.70 L277.30,564.00 L280.60,563.00 L283.90,563.00 L287.20,564.00 L290.50,563.00 L293.75,564.00 L297.00,566.25 L299.20,568.40 L301.40,564.00 L303.60,567.30" stroke="#0a0a0a" stroke-width="2.0"/>
</g>
<path d="M62.50,570.40 V564.10 M62.50,312.40 V318.70 M92.65,570.40 V567.20 M92.65,312.40 V315.60 M122.80,570.40 V564.10 M122.80,312.40 V318.70 M152.95,570.40 V567.20 M152.95,312.40 V315.60 M183.10,570.40 V564.10 M183.10,312.40 V318.70 M213.25,570.40 V567.20 M213.25,312.40 V315.60 M243.40,570.40 V564.10 M243.40,312.40 V318.70 M273.55,570.40 V567.20 M273.55,312.40 V315.60" stroke="#2a2a2a" stroke-width="1.05" fill="none"/>
<path d="M31.30,312.55 V572.15 M304.40,311.60 V571.20 M31.30,313.35 H52.00 M52.00,312.40 H305.20 M31.30,571.35 H52.00 M52.00,570.40 H305.20" fill="none" stroke="#222222" stroke-width="1.65"/>
<text x="62.50" y="583.70" text-anchor="middle" font-size="13.6" fill="#3a3a3a" textLength="15.6" lengthAdjust="spacingAndGlyphs">10</text>
<text x="122.80" y="583.70" text-anchor="middle" font-size="13.6" fill="#3a3a3a" textLength="15.6" lengthAdjust="spacingAndGlyphs">20</text>
<text x="183.10" y="583.70" text-anchor="middle" font-size="13.6" fill="#3a3a3a" textLength="15.6" lengthAdjust="spacingAndGlyphs">30</text>
<text x="243.40" y="583.70" text-anchor="middle" font-size="13.6" fill="#3a3a3a" textLength="15.6" lengthAdjust="spacingAndGlyphs">40</text>
<text x="303.70" y="583.70" text-anchor="middle" font-size="13.6" fill="#3a3a3a" textLength="15.6" lengthAdjust="spacingAndGlyphs">50</text>
<text x="147" y="597.90" font-size="14.2" fill="#222" stroke="#222" stroke-width="0.4" textLength="73" lengthAdjust="spacingAndGlyphs">Energy (eV)</text>
<text transform="translate(17.8,440.40) rotate(-90)" text-anchor="middle" font-size="13" fill="#222" stroke="#222" stroke-width="0.25" textLength="40" lengthAdjust="spacingAndGlyphs">S(Q,ω)</text>
<text transform="translate(40.4,337.30) skewX(-6)" x="0" y="0" font-size="16" fill="#e01010" stroke="#e01010" stroke-width="0.35" textLength="21.8" lengthAdjust="spacingAndGlyphs">(b)</text>
<text x="258.8" y="399.70" font-size="13.7" fill="#333" textLength="43.2" lengthAdjust="spacingAndGlyphs">Q = 2.50</text>
<text x="258.8" y="432.50" font-size="13.7" fill="#333" textLength="43.2" lengthAdjust="spacingAndGlyphs">Q = 2.33</text>
<text x="258.8" y="464.70" font-size="13.7" fill="#333" textLength="43.2" lengthAdjust="spacingAndGlyphs">Q = 2.17</text>
<text x="258.8" y="498.60" font-size="13.7" fill="#333" textLength="43.2" lengthAdjust="spacingAndGlyphs">Q = 1.83</text>
<text x="258.8" y="526.90" font-size="13.7" fill="#333" textLength="43.2" lengthAdjust="spacingAndGlyphs">Q = 1.67</text>
<text x="258.8" y="554.20" font-size="13.7" fill="#333" textLength="43.2" lengthAdjust="spacingAndGlyphs">Q = 1.50</text>
</svg>
</body></html>
